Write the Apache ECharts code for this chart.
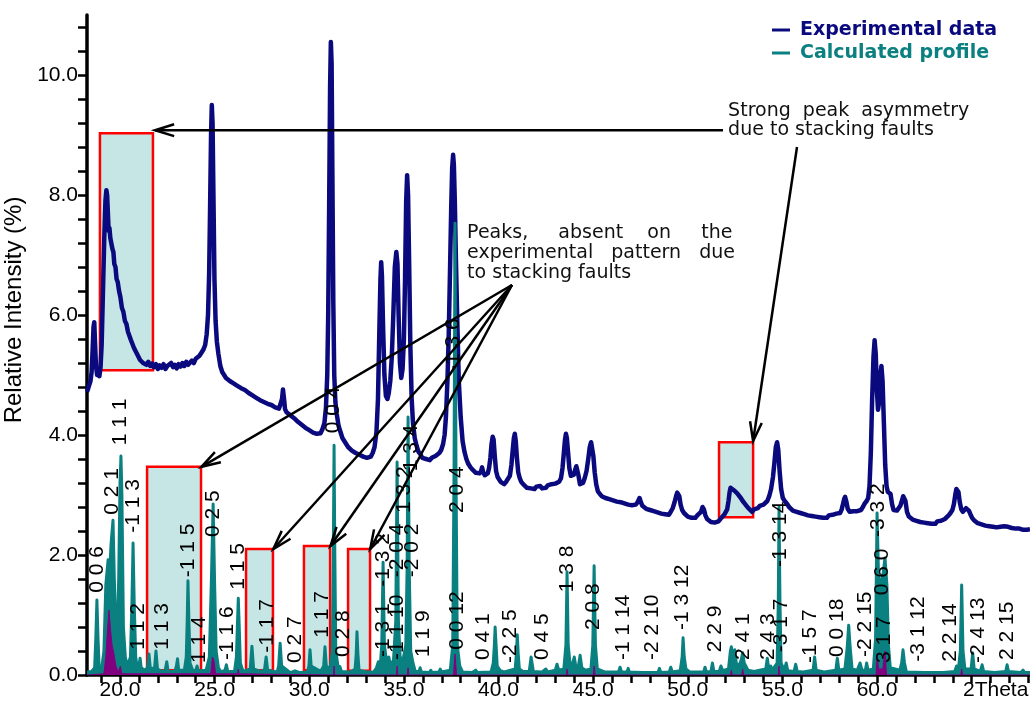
<!DOCTYPE html>
<html><head><meta charset="utf-8">
<script src="https://cdn.jsdelivr.net/npm/echarts@6/dist/echarts.min.js"></script>
<style>html,body{margin:0;padding:0;background:#fff}#c{width:1030px;height:704px}</style>
</head><body><div id="c"></div>
<script>
// ---- data ----
const experimental = [
[18.26,4.72],[18.32,4.78],[18.38,4.75],[18.44,4.9],[18.5,5.05],[18.55,5.4],[18.6,5.8],[18.64,5.88],[18.68,5.55],[18.73,5.15],[18.79,5.0],[18.85,5.04],[18.91,4.98],[18.97,5.12],[19.03,5.5],[19.1,6.4],[19.17,7.3],[19.23,7.9],[19.28,8.08],[19.32,8.0],[19.36,7.7],[19.4,7.4],[19.44,7.45],[19.49,7.28],[19.54,7.3],[19.6,7.1],[19.65,7.05],[19.7,6.85],[19.76,6.8],[19.82,6.6],[19.88,6.55],[19.95,6.4],[20.02,6.3],[20.1,6.12],[20.18,6.05],[20.26,5.9],[20.34,5.85],[20.42,5.72],[20.5,5.7],[20.58,5.58],[20.66,5.55],[20.74,5.45],[20.82,5.42],[20.9,5.35],[20.98,5.32],[21.06,5.25],[21.14,5.28],[21.22,5.2],[21.3,5.23],[21.4,5.17],[21.5,5.22],[21.6,5.15],[21.7,5.19],[21.8,5.13],[21.9,5.18],[22.0,5.1],[22.1,5.16],[22.2,5.12],[22.3,5.18],[22.4,5.1],[22.5,5.15],[22.6,5.12],[22.7,5.2],[22.8,5.13],[22.9,5.17],[23.0,5.11],[23.1,5.18],[23.2,5.14],[23.3,5.2],[23.4,5.15],[23.5,5.22],[23.6,5.17],[23.7,5.2],[23.8,5.24],[23.9,5.2],[24.0,5.27],[24.1,5.25],[24.2,5.32],[24.3,5.35],[24.4,5.42],[24.5,5.5],[24.58,5.68],[24.65,6.0],[24.71,6.7],[24.76,7.8],[24.81,9.0],[24.85,9.5],[24.89,9.2],[24.94,7.9],[24.99,6.6],[25.05,5.9],[25.12,5.55],[25.2,5.35],[25.3,5.15],[25.4,5.05],[25.5,5.0],[25.6,4.95],[25.7,4.98],[25.8,4.9],[25.9,4.93],[26.0,4.86],[26.1,4.88],[26.2,4.82],[26.3,4.84],[26.4,4.78],[26.5,4.8],[26.6,4.75],[26.7,4.77],[26.8,4.7],[26.9,4.72],[27.0,4.66],[27.1,4.68],[27.2,4.62],[27.3,4.65],[27.4,4.58],[27.5,4.6],[27.6,4.55],[27.7,4.57],[27.8,4.52],[27.9,4.55],[28.0,4.5],[28.1,4.52],[28.2,4.46],[28.3,4.48],[28.4,4.44],[28.5,4.47],[28.56,4.6],[28.61,4.76],[28.66,4.62],[28.72,4.43],[28.8,4.38],[28.9,4.4],[29.0,4.33],[29.1,4.35],[29.2,4.28],[29.3,4.3],[29.4,4.22],[29.5,4.24],[29.6,4.17],[29.7,4.19],[29.8,4.12],[29.9,4.14],[30.0,4.08],[30.1,4.1],[30.2,4.04],[30.3,4.06],[30.4,4.02],[30.5,4.05],[30.6,4.03],[30.7,4.1],[30.8,4.2],[30.88,4.45],[30.95,5.0],[31.0,6.0],[31.05,7.8],[31.1,9.8],[31.14,10.55],[31.18,10.2],[31.22,8.4],[31.27,6.2],[31.32,5.0],[31.38,4.55],[31.45,4.35],[31.55,4.15],[31.65,4.05],[31.75,3.95],[31.85,3.9],[31.95,3.85],[32.05,3.8],[32.15,3.82],[32.25,3.74],[32.35,3.76],[32.45,3.7],[32.55,3.72],[32.65,3.67],[32.75,3.7],[32.85,3.64],[32.95,3.67],[33.05,3.62],[33.15,3.65],[33.25,3.64],[33.35,3.7],[33.45,3.8],[33.55,4.05],[33.63,4.6],[33.7,5.7],[33.76,6.6],[33.8,6.88],[33.84,6.65],[33.9,5.8],[33.97,5.0],[34.05,4.65],[34.13,4.6],[34.2,4.7],[34.28,4.9],[34.36,5.3],[34.44,6.0],[34.52,6.8],[34.6,7.05],[34.66,6.85],[34.72,6.0],[34.79,5.2],[34.86,4.95],[34.93,5.1],[35.0,5.6],[35.06,6.6],[35.12,7.9],[35.17,8.33],[35.22,8.0],[35.28,6.8],[35.34,5.5],[35.41,4.6],[35.48,4.2],[35.57,3.95],[35.67,3.82],[35.77,3.72],[35.87,3.68],[35.97,3.62],[36.07,3.65],[36.17,3.6],[36.27,3.63],[36.37,3.58],[36.47,3.62],[36.57,3.6],[36.67,3.65],[36.77,3.63],[36.87,3.7],[36.97,3.75],[37.07,3.85],[37.15,4.0],[37.22,4.3],[37.3,4.9],[37.37,5.7],[37.44,6.8],[37.5,7.8],[37.55,8.45],[37.6,8.67],[37.64,8.5],[37.69,7.9],[37.75,6.9],[37.82,5.9],[37.9,4.9],[38.0,4.3],[38.1,3.9],[38.2,3.72],[38.3,3.6],[38.4,3.52],[38.5,3.47],[38.6,3.43],[38.7,3.4],[38.8,3.37],[38.9,3.39],[39.0,3.36],[39.08,3.4],[39.13,3.46],[39.19,3.38],[39.27,3.33],[39.35,3.32],[39.43,3.36],[39.5,3.45],[39.57,3.62],[39.63,3.85],[39.69,3.97],[39.74,3.92],[39.8,3.65],[39.87,3.4],[39.95,3.3],[40.03,3.28],[40.11,3.22],[40.2,3.2],[40.3,3.18],[40.4,3.22],[40.5,3.25],[40.6,3.32],[40.68,3.5],[40.75,3.75],[40.81,3.95],[40.86,4.02],[40.91,3.9],[40.97,3.62],[41.04,3.38],[41.12,3.28],[41.2,3.22],[41.3,3.18],[41.4,3.15],[41.5,3.12],[41.6,3.15],[41.7,3.11],[41.8,3.14],[41.9,3.1],[42.0,3.14],[42.1,3.11],[42.2,3.15],[42.3,3.11],[42.4,3.14],[42.5,3.12],[42.6,3.16],[42.7,3.13],[42.8,3.18],[42.9,3.15],[43.0,3.19],[43.1,3.18],[43.2,3.22],[43.3,3.28],[43.38,3.45],[43.45,3.7],[43.51,3.92],[43.56,4.02],[43.61,3.95],[43.67,3.72],[43.74,3.45],[43.82,3.32],[43.9,3.3],[43.98,3.34],[44.05,3.42],[44.11,3.48],[44.16,3.47],[44.22,3.33],[44.3,3.18],[44.38,3.15],[44.46,3.2],[44.55,3.28],[44.65,3.4],[44.74,3.6],[44.82,3.8],[44.89,3.88],[44.95,3.85],[45.01,3.65],[45.08,3.38],[45.16,3.18],[45.25,3.06],[45.35,3.02],[45.45,2.98],[45.55,3.0],[45.65,2.95],[45.75,2.98],[45.85,2.93],[45.95,2.96],[46.05,2.91],[46.15,2.94],[46.25,2.89],[46.35,2.92],[46.45,2.88],[46.55,2.9],[46.65,2.86],[46.75,2.88],[46.85,2.84],[46.95,2.87],[47.05,2.83],[47.15,2.86],[47.25,2.84],[47.35,2.88],[47.45,2.95],[47.52,2.88],[47.6,2.82],[47.7,2.8],[47.8,2.77],[47.9,2.8],[48.0,2.75],[48.1,2.78],[48.2,2.73],[48.3,2.76],[48.4,2.71],[48.5,2.73],[48.6,2.69],[48.7,2.72],[48.8,2.68],[48.9,2.7],[49.0,2.67],[49.1,2.72],[49.2,2.78],[49.3,2.88],[49.38,2.98],[49.44,3.04],[49.49,3.06],[49.55,2.98],[49.62,2.84],[49.7,2.75],[49.8,2.7],[49.9,2.68],[50.0,2.64],[50.1,2.66],[50.2,2.62],[50.3,2.65],[50.4,2.62],[50.5,2.66],[50.6,2.68],[50.7,2.72],[50.78,2.8],[50.85,2.76],[50.93,2.66],[51.02,2.6],[51.12,2.57],[51.22,2.55],[51.32,2.58],[51.42,2.54],[51.52,2.57],[51.62,2.56],[51.72,2.6],[51.82,2.63],[51.92,2.67],[52.0,2.7],[52.08,2.76],[52.15,2.9],[52.21,3.05],[52.26,3.12],[52.3,3.15],[52.36,3.12],[52.43,3.08],[52.5,3.07],[52.6,3.03],[52.7,3.0],[52.8,2.95],[52.9,2.9],[53.0,2.86],[53.1,2.82],[53.2,2.78],[53.3,2.75],[53.4,2.72],[53.5,2.76],[53.6,2.74],[53.7,2.78],[53.8,2.82],[53.9,2.8],[54.0,2.84],[54.1,2.86],[54.2,2.9],[54.3,2.98],[54.4,3.1],[54.5,3.3],[54.58,3.55],[54.65,3.8],[54.72,3.88],[54.78,3.75],[54.85,3.4],[54.93,3.1],[55.02,2.95],[55.12,2.9],[55.25,2.85],[55.35,2.8],[55.45,2.78],[55.55,2.74],[55.65,2.76],[55.75,2.72],[55.85,2.74],[55.95,2.7],[56.05,2.72],[56.15,2.68],[56.25,2.7],[56.35,2.66],[56.45,2.69],[56.55,2.65],[56.65,2.68],[56.75,2.64],[56.85,2.67],[56.95,2.63],[57.05,2.66],[57.15,2.62],[57.25,2.65],[57.35,2.62],[57.45,2.66],[57.55,2.63],[57.65,2.67],[57.75,2.65],[57.85,2.69],[57.95,2.68],[58.05,2.7],[58.13,2.76],[58.2,2.85],[58.26,2.93],[58.31,2.97],[58.37,2.9],[58.45,2.77],[58.55,2.72],[58.65,2.7],[58.75,2.73],[58.85,2.7],[58.95,2.73],[59.05,2.71],[59.15,2.75],[59.25,2.8],[59.35,2.86],[59.45,2.9],[59.53,2.95],[59.6,3.15],[59.67,3.7],[59.74,4.6],[59.81,5.3],[59.87,5.58],[59.93,5.35],[59.99,4.75],[60.05,4.42],[60.11,4.55],[60.17,5.0],[60.23,5.15],[60.29,4.9],[60.36,4.2],[60.43,3.5],[60.5,3.15],[60.57,3.05],[60.64,3.08],[60.71,3.02],[60.79,2.85],[60.87,2.75],[60.96,2.72],[61.05,2.74],[61.14,2.76],[61.23,2.82],[61.31,2.9],[61.38,2.98],[61.44,3.0],[61.5,2.9],[61.58,2.72],[61.68,2.64],[61.78,2.62],[61.88,2.59],[61.98,2.61],[62.08,2.57],[62.18,2.59],[62.28,2.55],[62.38,2.58],[62.48,2.54],[62.58,2.57],[62.68,2.53],[62.78,2.56],[62.88,2.52],[62.98,2.55],[63.08,2.52],[63.18,2.56],[63.28,2.53],[63.38,2.57],[63.48,2.55],[63.58,2.6],[63.68,2.62],[63.78,2.66],[63.88,2.7],[63.98,2.75],[64.06,2.85],[64.13,3.0],[64.19,3.1],[64.24,3.13],[64.3,3.05],[64.37,2.88],[64.45,2.76],[64.53,2.72],[64.62,2.74],[64.7,2.78],[64.78,2.8],[64.85,2.74],[64.93,2.68],[65.02,2.62],[65.12,2.58],[65.22,2.55],[65.32,2.53],[65.42,2.55],[65.52,2.51],[65.62,2.53],[65.72,2.49],[65.82,2.52],[65.92,2.48],[66.02,2.5],[66.12,2.47],[66.22,2.5],[66.32,2.46],[66.42,2.49],[66.52,2.47],[66.62,2.5],[66.72,2.48],[66.82,2.51],[66.92,2.47],[67.02,2.49],[67.12,2.45],[67.22,2.48],[67.32,2.44],[67.42,2.47],[67.52,2.44],[67.62,2.46],[67.72,2.42],[67.82,2.45],[67.92,2.42],[68.02,2.44],[68.08,2.43]
];
const calculated = [
[18.26,0.05],[18.5,0.06],[18.66,0.12],[18.72,0.6],[18.78,1.25],[18.84,0.6],[18.9,0.12],[19.05,0.15],[19.15,0.4],[19.25,1.5],[19.37,1.92],[19.45,1.7],[19.53,2.2],[19.63,2.58],[19.7,1.6],[19.78,0.8],[19.86,0.7],[19.93,1.6],[20.0,3.2],[20.05,3.65],[20.1,3.0],[20.18,0.8],[20.28,0.3],[20.4,0.15],[20.55,0.3],[20.63,1.2],[20.69,2.2],[20.75,1.2],[20.83,0.3],[20.92,0.1],[21.0,0.15],[21.06,0.28],[21.12,0.12],[21.3,0.08],[21.45,0.12],[21.53,0.35],[21.6,0.12],[21.82,0.1],[21.9,0.4],[21.98,0.1],[22.3,0.05],[22.4,0.1],[22.47,0.22],[22.54,0.06],[22.9,0.06],[22.98,0.15],[23.04,0.27],[23.1,0.08],[23.4,0.08],[23.5,0.3],[23.55,0.9],[23.59,1.57],[23.64,0.9],[23.7,0.2],[23.85,0.07],[24.0,0.08],[24.07,0.15],[24.14,0.07],[24.55,0.08],[24.72,0.3],[24.83,1.6],[24.92,2.85],[25.0,1.5],[25.08,0.4],[25.2,0.12],[25.35,0.05],[25.55,0.08],[25.62,0.17],[25.69,0.06],[26.05,0.06],[26.15,0.3],[26.2,0.8],[26.25,1.28],[26.3,0.8],[26.36,0.2],[26.5,0.06],[26.88,0.1],[26.97,0.48],[27.06,0.1],[27.5,0.05],[27.64,0.1],[27.72,0.3],[27.8,0.08],[28.3,0.05],[28.38,0.15],[28.46,0.53],[28.54,0.15],[29.0,0.04],[29.25,0.07],[29.5,0.04],[29.9,0.05],[29.98,0.15],[30.04,0.42],[30.1,0.15],[30.6,0.06],[30.76,0.15],[30.83,0.47],[30.9,0.15],[31.1,0.1],[31.22,0.4],[31.27,2.0],[31.31,3.83],[31.35,2.0],[31.4,0.4],[31.55,0.08],[31.62,0.14],[31.7,0.06],[32.2,0.05],[32.42,0.1],[32.48,0.35],[32.52,0.72],[32.57,0.35],[32.63,0.08],[33.0,0.05],[33.4,0.05],[33.55,0.12],[33.65,0.22],[33.75,0.15],[33.83,0.5],[33.9,1.88],[33.97,0.5],[34.07,0.25],[34.2,0.3],[34.3,0.15],[34.45,0.25],[34.57,0.9],[34.64,3.55],[34.71,0.9],[34.8,0.3],[34.95,0.25],[35.1,0.5],[35.17,1.8],[35.22,4.3],[35.28,1.8],[35.36,0.4],[35.48,0.2],[35.6,0.06],[35.8,0.06],[35.86,0.12],[35.92,0.05],[36.35,0.04],[36.42,0.08],[36.48,0.04],[36.85,0.05],[36.92,0.1],[36.98,0.05],[37.45,0.08],[37.58,0.5],[37.65,3.5],[37.7,7.53],[37.75,3.5],[37.82,0.5],[37.95,0.15],[38.1,0.05],[38.6,0.04],[38.8,0.08],[38.88,0.04],[39.6,0.05],[39.72,0.2],[39.78,0.5],[39.82,0.8],[39.87,0.5],[39.93,0.15],[40.1,0.07],[40.3,0.05],[40.88,0.1],[40.94,0.35],[40.99,0.67],[41.04,0.35],[41.1,0.1],[41.3,0.06],[41.62,0.06],[41.68,0.2],[41.72,0.3],[41.77,0.2],[41.84,0.06],[42.3,0.05],[42.5,0.1],[42.6,0.05],[43.0,0.08],[43.09,0.18],[43.18,0.08],[43.45,0.1],[43.56,0.5],[43.62,1.72],[43.68,0.5],[43.8,0.12],[43.92,0.2],[44.0,0.3],[44.08,0.15],[44.22,0.15],[44.31,0.33],[44.4,0.12],[44.6,0.08],[44.88,0.1],[44.98,0.5],[45.05,1.82],[45.12,0.5],[45.22,0.1],[45.6,0.05],[46.34,0.05],[46.42,0.13],[46.5,0.05],[46.78,0.05],[46.85,0.11],[46.92,0.05],[47.6,0.04],[48.42,0.04],[48.5,0.11],[48.58,0.04],[49.02,0.05],[49.1,0.13],[49.18,0.05],[49.6,0.07],[49.7,0.3],[49.75,0.62],[49.81,0.3],[49.9,0.1],[50.0,0.12],[50.1,0.05],[50.5,0.05],[50.84,0.05],[50.91,0.13],[50.98,0.05],[51.22,0.06],[51.3,0.2],[51.38,0.06],[51.66,0.06],[51.75,0.15],[51.85,0.07],[52.15,0.1],[52.25,0.4],[52.3,0.47],[52.38,0.3],[52.48,0.42],[52.56,0.2],[52.7,0.15],[52.82,0.25],[52.9,0.37],[52.98,0.2],[53.08,0.2],[53.18,0.08],[53.5,0.06],[53.8,0.08],[54.12,0.1],[54.2,0.28],[54.28,0.1],[54.38,0.15],[54.46,0.08],[54.72,0.2],[54.78,1.2],[54.82,2.8],[54.87,1.2],[54.93,0.2],[55.1,0.08],[55.2,0.2],[55.28,0.07],[55.62,0.06],[55.7,0.18],[55.78,0.06],[56.1,0.05],[56.62,0.08],[56.7,0.3],[56.78,0.08],[57.2,0.05],[57.82,0.08],[57.9,0.28],[57.98,0.08],[58.3,0.1],[58.42,0.45],[58.5,0.83],[58.58,0.45],[58.68,0.1],[58.95,0.08],[59.1,0.2],[59.2,0.08],[59.38,0.08],[59.45,0.2],[59.52,0.08],[59.8,0.1],[59.92,0.6],[60.0,2.7],[60.08,1.6],[60.2,1.55],[60.32,1.7],[60.42,1.95],[60.52,1.5],[60.6,0.5],[60.7,0.12],[61.2,0.08],[61.3,0.2],[61.37,0.42],[61.45,0.2],[61.55,0.05],[62.5,0.04],[63.5,0.04],[64.1,0.06],[64.2,0.15],[64.3,0.1],[64.4,0.4],[64.47,1.5],[64.54,0.4],[64.64,0.1],[64.97,0.1],[65.05,0.37],[65.13,0.1],[65.45,0.06],[65.55,0.17],[65.63,0.06],[66.2,0.04],[66.8,0.06],[66.87,0.17],[66.94,0.06],[67.6,0.04],[67.71,0.08],[67.8,0.04],[68.08,0.04]
];
const secondPhase = [
[18.26,0],[19.15,0.02],[19.25,0.3],[19.35,0.8],[19.42,1.08],[19.5,0.75],[19.58,0.5],[19.68,0.35],[19.78,0.15],[19.9,0.05],[20.02,0.15],[20.1,0.02],[24.8,0.02],[24.88,0.3],[24.96,0.25],[25.05,0.02],[26.22,0.02],[26.25,0.1],[26.28,0.02],[31.28,0],[31.31,0.15],[31.34,0],[34.6,0],[34.64,0.15],[34.68,0],[35.18,0],[35.22,0.12],[35.26,0],[37.62,0],[37.7,0.35],[37.78,0],[43.58,0],[43.62,0.1],[43.66,0],[45.0,0],[45.05,0.15],[45.1,0],[52.25,0],[52.3,0.08],[52.35,0],[52.85,0],[52.9,0.1],[52.95,0],[54.78,0],[54.82,0.15],[54.86,0],[59.95,0],[60.0,0.35],[60.08,0.1],[60.3,0.1],[60.42,0.4],[60.5,0],[64.42,0],[64.47,0.1],[64.52,0],[68.08,0]
];
const xLabelTicks = [20,25,30,35,40,45,50,55,60];
const xTicks = [19,20,21,22,23,24,25,26,27,28,29,30,31,32,33,34,35,36,37,38,39,40,41,42,43,44,45,46,47,48,49,50,51,52,53,54,55,56,57,58,59,60,61,62,63,64,65,66,67,68];
const yLabelTicks = [0,2,4,6,8,10];
const yTicks = [0,0.4,0.8,1.2,1.6,2,2.4,2.8,3.2,3.6,4,4.4,4.8,5.2,5.6,6,6.4,6.8,7.2,7.6,8,8.4,8.8,9.2,9.6,10,10.4,10.8];
const boxes = [[18.94,5.08,21.74,9.03],[21.43,0.08,24.28,3.47],[26.66,0.08,28.08,2.1],[29.72,0.08,31.1,2.15],[32.05,0.07,33.21,2.1],[51.65,2.63,53.45,3.88]];
const arrows = [[51.86,9.08,21.85,9.08],[55.77,8.8,53.45,3.9],[40.71,6.5,24.3,3.47],[40.71,6.5,28.1,2.1],[40.71,6.5,31.12,2.15],[40.71,6.5,33.22,2.1]];
const hklNames = ["0 0 6","0 2 1","1 1 1","-1 1 3","1 1 2","1 1 3","-1 1 5","1 1 4","0 2 5","-1 1 6","1 1 5","-1 1 7","0 2 7","1 1 7","0 2 8","0 0 4","-1 3 2","-1 3 1","-2 0 4","1 3 2","-1 1 10","-2 0 2","-1 3 4","1 1 9","-1 3 6","2 0 4","0 0 12","0 4 1","-2 2 5","0 4 5","1 3 8","2 0 8","-1 1 14","-2 2 10","-1 3 12","2 2 9","2 4 1","2 4 3","-3 1 7","-1 3 14","-1 5 7","0 0 18","-2 2 15","-3 3 2","0 6 0","3 1 7","-3 1 12","2 2 14","-2 4 13","2 2 15"];
const hklTheta = [18.78,19.58,20.0,20.69,20.95,22.22,23.59,24.17,24.91,25.65,26.24,27.77,29.25,30.67,31.78,31.26,33.9,33.9,34.64,35.01,34.64,35.43,35.38,36.01,37.6,37.81,37.81,39.18,40.61,42.3,43.62,44.99,46.58,48.11,49.7,51.44,52.92,54.24,54.93,54.87,56.46,57.89,59.37,60.05,60.26,60.37,62.17,63.86,65.34,66.87];
const hklBase = [1.37,2.67,3.83,2.37,0.42,0.42,1.63,0.2,2.3,0.25,1.42,0.37,0.2,0.62,0.3,4.03,1.47,0.3,1.63,2.7,0.25,1.63,3.28,0.3,5.05,2.7,0.42,0.25,0.2,0.25,1.38,0.75,0.25,0.25,0.75,0.38,0.25,0.25,0.38,1.8,0.2,0.3,0.3,2.3,1.33,0.2,0.22,0.22,0.2,0.25];
const noteLines = ["Strong  peak  asymmetry","due to stacking faults","Peaks,     absent    on     the","experimental   pattern   due","to stacking faults"];
const noteTheta = [52.13,52.13,38.34,38.34,38.34];
const noteY = [9.4,9.08,7.37,7.03,6.7];

// ---- chart ----
const chart = echarts.init(document.getElementById('c'), null, {renderer:'canvas'});
const AX = 'Liberation Sans';
const option = {
  animation:false,
  backgroundColor:'#fff',
  grid:{left:87,right:0,top:15,bottom:29,containLabel:false,outerBoundsMode:'none'},
  legend:{
    orient:'vertical', left:772, top:19, padding:0, itemGap:1,
    icon:'rect', itemWidth:18, itemHeight:3,
    data:[
      {name:'Experimental data', textStyle:{color:'#0a0a7e'}},
      {name:'Calculated profile', textStyle:{color:'#0a8080'}}
    ],
    textStyle:{fontFamily:'DejaVu Sans', fontWeight:'bold', fontSize:19, lineHeight:22, padding:[0,0,0,5]},
    selectedMode:false
  },
  xAxis:{
    type:'value', min:18.256, max:68.08,
    name:'2Theta', nameLocation:'end', nameGap:-67,
    nameTextStyle:{fontFamily:AX, fontSize:21, color:'#000', align:'left', verticalAlign:'top', padding:[5,0,0,0]},
    axisLine:{show:true, lineStyle:{color:'#000', width:3.5}},
    axisTick:{show:true, customValues:xTicks, length:8, lineStyle:{color:'#000', width:2.5}},
    axisLabel:{customValues:xLabelTicks, formatter:v=>Number(v).toFixed(1), fontFamily:AX, fontSize:21, color:'#000', margin:5},
    splitLine:{show:false}
  },
  yAxis:{
    type:'value', min:0, max:11,
    name:'Relative Intensity (%)', nameLocation:'middle', nameGap:52,
    nameTextStyle:{fontFamily:AX, fontSize:24, color:'#000', padding:[0,0,0,70]},
    axisLine:{show:true, lineStyle:{color:'#000', width:3.5}},
    axisTick:{show:true, customValues:yTicks, length:9, lineStyle:{color:'#000', width:2.5}},
    axisLabel:{customValues:yLabelTicks, formatter:v=>Number(v).toFixed(1), fontFamily:AX, fontSize:21, color:'#000', margin:9},
    splitLine:{show:false}
  },
  series:[
    {
      name:'Experimental data', type:'line', data:experimental, showSymbol:false, z:2,
      itemStyle:{color:'#0a0a7e'},
      lineStyle:{color:'#0a0a7e', width:4.5, join:'round'},
      markArea:{
        silent:true,
        itemStyle:{color:'#c6e6e6', borderColor:'#ff0000', borderWidth:2.5},
        label:{show:false},
        data: boxes.map(b=>[{coord:[b[0],b[1]]},{coord:[b[2],b[3]]}])
      }
    },
    {
      name:'Calculated profile', type:'line', data:calculated, showSymbol:false, z:3,
      itemStyle:{color:'#0a8080'},
      lineStyle:{color:'#0a8080', width:3, join:'round'},
      areaStyle:{color:'#0a8080', opacity:1}
    },
    {
      name:'phase2', type:'line', data:secondPhase, showSymbol:false, z:3,
      itemStyle:{color:'#800080'},
      lineStyle:{color:'#800080', width:1},
      areaStyle:{color:'#800080', opacity:1}
    },
    {
      name:'hkl', type:'custom', z:5, silent:true,
      data: hklTheta.map((t,i)=>[t,hklBase[i]]),
      encode:{x:0,y:1},
      renderItem:(params,api)=>{
        const p = api.coord([api.value(0),api.value(1)]);
        return {type:'text', x:p[0], y:p[1], rotation:Math.PI/2,
          style:{text:hklNames[params.dataIndex], fill:'#000', font:'21px "Liberation Sans"', align:'left', verticalAlign:'middle'}};
      }
    },
    {
      name:'notes', type:'custom', z:6, silent:true,
      data: noteTheta.map((t,i)=>[t,noteY[i]]),
      encode:{x:0,y:1},
      renderItem:(params,api)=>{
        const p = api.coord([api.value(0),api.value(1)]);
        return {type:'text', x:p[0], y:p[1],
          style:{text:noteLines[params.dataIndex], fill:'#111', font:'19px "DejaVu Sans"', align:'left', verticalAlign:'middle'}};
      }
    },
    {
      name:'arrows', type:'custom', z:7, silent:true,
      data: arrows,
      encode:{x:[0,2],y:[1,3]},
      renderItem:(params,api)=>{
        const a = api.coord([api.value(0),api.value(1)]);
        const b = api.coord([api.value(2),api.value(3)]);
        const ang = Math.atan2(b[1]-a[1], b[0]-a[0]);
        const L = 20, W = 0.3;
        const p1 = [b[0]-L*Math.cos(ang-W), b[1]-L*Math.sin(ang-W)];
        const p2 = [b[0]-L*Math.cos(ang+W), b[1]-L*Math.sin(ang+W)];
        return {type:'group', children:[
          {type:'line', shape:{x1:a[0],y1:a[1],x2:b[0],y2:b[1]}, style:{stroke:'#000', lineWidth:2.5}},
          {type:'polyline', shape:{points:[p1,b,p2]}, style:{stroke:'#000', lineWidth:2.5, fill:null, lineJoin:'miter'}}
        ]};
      }
    }
  ]
};
chart.setOption(option);
</script>
</body></html>
